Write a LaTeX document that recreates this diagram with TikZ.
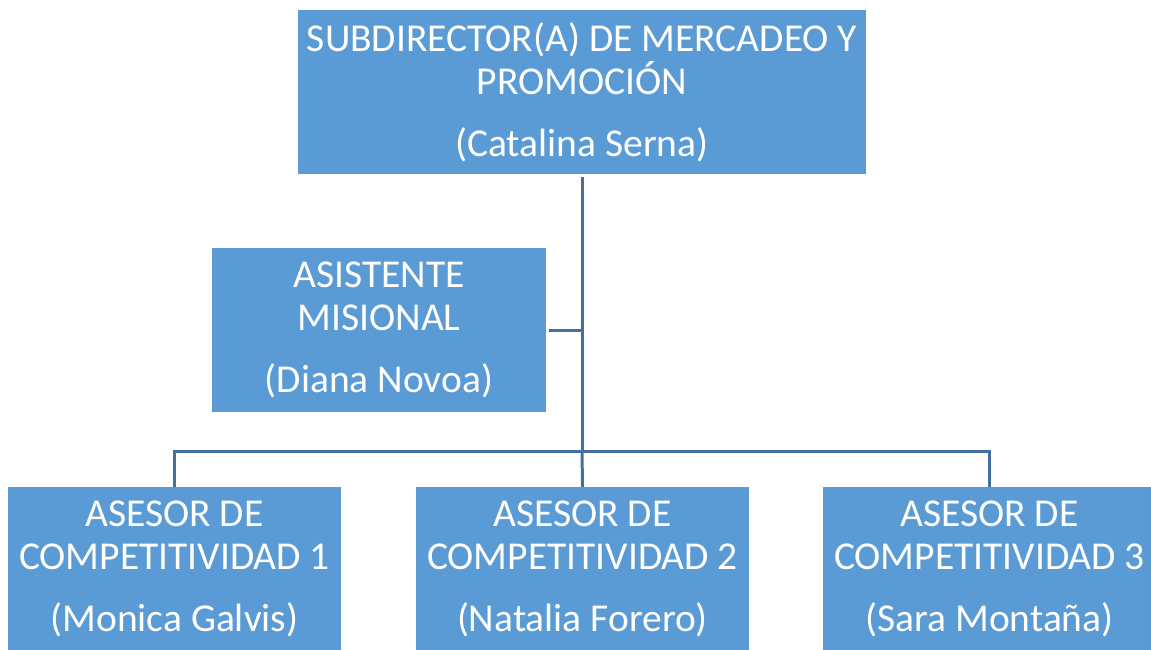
\documentclass[tikz,border=0pt]{standalone}
\usepackage{fontspec}
\setmainfont{Carlito}
\definecolor{boxblue}{HTML}{5B9BD5}
\definecolor{lineblue}{HTML}{41719C}
\tikzset{
  orgbox/.style={fill=boxblue, draw=none, text=white, align=center,
    font=\fontsize{39.5}{43}\selectfont, inner sep=0pt},
  conn/.style={draw=lineblue, line width=3pt}
}
\begin{document}
\begin{tikzpicture}[x=1pt,y=-1pt]
      \useasboundingbox (0,0) rectangle (1151,649);
      \node[orgbox, minimum width=568pt, minimum height=164pt] (subdir) at (582,92)
        {SUBDIRECTOR(A) DE MERCADEO Y\\PROMOCIÓN\\[19pt](Catalina Serna)};
      \node[orgbox, minimum width=334pt, minimum height=164pt] (asist) at (379,330)
        {ASISTENTE\\MISIONAL\\[19pt](Diana Novoa)};
      \node[orgbox, minimum width=333pt, minimum height=164pt] (ase1) at (174.5,569)
        {ASESOR DE\\COMPETITIVIDAD 1\\[19pt](Monica Galvis)};
      \node[orgbox, minimum width=333pt, minimum height=164pt] (ase2) at (582.5,569)
        {ASESOR DE\\COMPETITIVIDAD 2\\[19pt](Natalia Forero)};
      \node[orgbox, minimum width=333pt, minimum height=164pt] (ase3) at (989.5,569)
        {ASESOR DE\\COMPETITIVIDAD 3\\[19pt](Sara Montaña)};
      \coordinate (bus) at (582,451);
      % lines
      \draw[conn, shorten <=3pt] (subdir.south) -- (bus);
      \draw[conn] (ase1.north) -- (ase1.north |- bus) -- (ase3.north |- bus) -- (ase3.north);
      \draw[conn] (bus) -- (ase2.north);
      \draw[conn, shorten <=3pt] (asist.east) -- (asist.east -| subdir.south);
\end{tikzpicture}
\end{document}
